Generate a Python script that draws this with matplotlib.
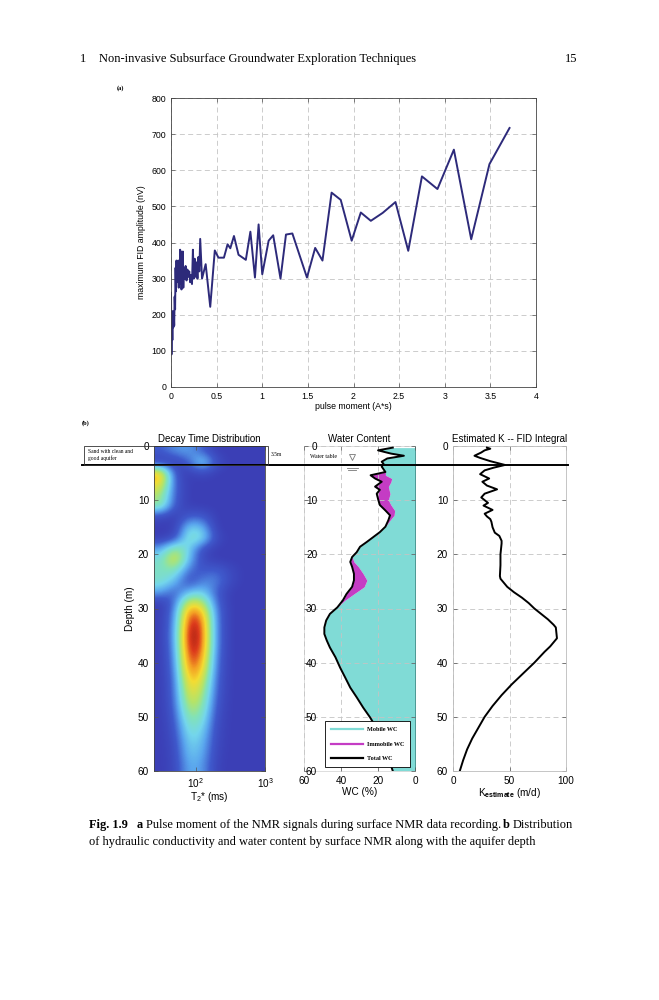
import numpy as np
import matplotlib
matplotlib.use("Agg")
import matplotlib.pyplot as plt
from matplotlib.colors import LinearSegmentedColormap
from matplotlib.lines import Line2D
from matplotlib.patches import Rectangle

plt.rcParams['font.family'] = ['Liberation Sans', 'DejaVu Sans']
plt.rcParams['mathtext.fontset'] = 'custom'
plt.rcParams['mathtext.rm'] = 'Liberation Sans'
plt.rcParams['mathtext.bf'] = 'Liberation Sans:bold'
plt.rcParams['mathtext.it'] = 'Liberation Sans:italic'

# ---- (a) pulse moment vs max FID amplitude ----
pulse_moment = [0.0, 0.005, 0.01, 0.015, 0.02, 0.025, 0.03, 0.035, 0.04, 0.045,
                0.05, 0.055, 0.06, 0.065, 0.07, 0.075, 0.08, 0.085, 0.09, 0.095,
                0.1, 0.105, 0.11, 0.115, 0.12, 0.125, 0.13, 0.135, 0.14, 0.15,
                0.16, 0.17, 0.18, 0.19, 0.2, 0.21, 0.22, 0.23, 0.24, 0.25,
                0.26, 0.27, 0.28, 0.29, 0.3, 0.31, 0.32,
                0.34, 0.38, 0.43, 0.48, 0.52, 0.58, 0.62, 0.65, 0.69, 0.74,
                0.82, 0.87, 0.92, 0.96, 1.0, 1.07, 1.12, 1.2, 1.26, 1.33,
                1.49, 1.58, 1.66, 1.76, 1.86, 1.98, 2.08, 2.19, 2.32, 2.46,
                2.6, 2.75, 2.92, 3.1, 3.29, 3.49, 3.71]
fid_amp = [260, 90, 200, 130, 210, 165, 205, 170, 250, 215,
           330, 265, 350, 290, 335, 300, 350, 275, 330, 300,
           380, 285, 375, 270, 340, 300, 375, 275, 330, 300,
           335, 295, 325, 305, 320, 290, 310, 285, 380, 300,
           355, 305, 345, 300, 360, 320, 410,
           300, 340, 222, 378, 358, 358, 395, 384, 418, 366,
           352, 430, 303, 450, 312, 405, 420, 300, 422, 425,
           303, 385, 350, 538, 518, 405, 483, 460, 482, 512,
           377, 583, 548, 657, 409, 617, 717]

# ---- (b) decay time distribution (rows: depth 1..59 m step 2, cols: log10 T2* 1.5..2.9) ----
decay_depth = [1, 3, 5, 7, 9, 11, 13, 15, 17, 19, 21, 23, 25, 27, 29,
               31, 33, 35, 37, 39, 41, 43, 45, 47, 49, 51, 53, 55, 57, 59]
decay_logt2 = [1.5, 1.7, 1.9, 2.1, 2.3, 2.5, 2.7, 2.9]
decay_grid = [
    [0.12, 0.22, 0.25, 0.12, 0, 0, 0, 0],
    [0, 0, 0.12, 0.42, 0.08, 0, 0, 0],
    [0.80, 0.08, 0, 0.05, 0, 0, 0, 0],
    [0.70, 0.12, 0, 0, 0, 0, 0, 0],
    [0.55, 0.12, 0, 0, 0, 0, 0, 0],
    [0.50, 0.10, 0, 0, 0, 0, 0, 0],
    [0.05, 0, 0.12, 0.12, 0, 0, 0, 0],
    [0, 0, 0.35, 0.30, 0, 0, 0, 0],
    [0, 0.05, 0.45, 0.40, 0.05, 0, 0, 0],
    [0.25, 0.55, 0.35, 0.05, 0, 0, 0, 0],
    [0.40, 0.70, 0.30, 0.05, 0, 0, 0, 0],
    [0.42, 0.45, 0.15, 0.10, 0.15, 0.05, 0, 0],
    [0.42, 0.30, 0.05, 0.20, 0.20, 0.05, 0, 0],
    [0.25, 0.10, 0.30, 0.35, 0.12, 0, 0, 0],
    [0, 0.15, 0.68, 0.60, 0.15, 0, 0, 0],
    [0, 0.20, 0.88, 0.80, 0.18, 0, 0, 0],
    [0, 0.22, 0.96, 0.88, 0.18, 0, 0, 0],
    [0, 0.24, 1.00, 0.90, 0.18, 0, 0, 0],
    [0, 0.22, 0.98, 0.88, 0.18, 0, 0, 0],
    [0, 0.20, 0.93, 0.82, 0.16, 0, 0, 0],
    [0, 0.18, 0.86, 0.75, 0.15, 0, 0, 0],
    [0, 0.16, 0.77, 0.66, 0.13, 0, 0, 0],
    [0, 0.15, 0.70, 0.58, 0.12, 0, 0, 0],
    [0, 0.14, 0.63, 0.52, 0.10, 0, 0, 0],
    [0, 0.12, 0.55, 0.46, 0.08, 0, 0, 0],
    [0, 0.10, 0.46, 0.40, 0.06, 0, 0, 0],
    [0, 0.08, 0.40, 0.34, 0.05, 0, 0, 0],
    [0, 0.06, 0.35, 0.30, 0.04, 0, 0, 0],
    [0, 0.05, 0.32, 0.27, 0.03, 0, 0, 0],
    [0, 0.04, 0.28, 0.24, 0.02, 0, 0, 0],
]

# ---- (b) water content ----
wc_depth = [0.3, 0.8, 1.4, 1.8, 2.3, 2.9, 3.3, 3.8, 4.8, 5.4,
            6.0, 6.6, 7.5, 8.1, 8.8, 10.0, 10.9, 11.9, 12.8, 13.7,
            14.9, 15.9, 16.8, 17.7, 18.6, 19.6, 20.5, 21.4, 22.3, 23.6,
            24.8, 26.0, 27.3, 28.5, 29.8, 31.0, 32.2, 33.5, 34.7, 35.9,
            37.2, 39.0, 40.9, 42.7, 44.6, 46.4, 48.3, 50.1, 51.4, 53.0,
            55.0, 57.0, 59.0, 60.0]
total_wc = [12, 20, 13, 6, 15, 18, 17, 18, 16, 24,
            21.6, 18, 21.6, 19, 20.7, 19.8, 19, 16, 13.5, 14.4,
            16, 19, 22.5, 26, 29.7, 31.5, 34, 35, 34, 33,
            33, 34, 37, 39, 42, 46, 48, 49, 49, 47.7,
            46, 43, 40.5, 37.8, 35, 31.5, 28, 24.3, 22, 19.5,
            17, 15, 13, 12]
mobile_wc = [12, 20, 13, 6, 15, 18, 17, 18, 16, 16,
             12.6, 13, 14.4, 14, 13.5, 14.4, 13, 11, 11.3, 13.5,
             16, 19, 22.5, 26, 29.7, 31.5, 34, 33, 30.6, 28,
             26, 27.5, 33, 38, 42, 46, 48, 49, 49, 47.7,
             46, 43, 40.5, 37.8, 35, 31.5, 28, 24.3, 22, 19.5,
             17, 15, 13, 12]

# ---- (b) estimated K ----
k_depth = [0.3, 0.5, 0.8, 1.2, 1.8, 2.2, 2.8, 3.5, 4.0, 4.5,
           5.2, 6.0, 6.6, 7.3, 8.0, 8.8, 9.5, 10.5, 11.0, 11.8,
           12.5, 13.0, 13.5, 14.0, 15.0, 16.0, 16.6, 17.5, 18, 20,
           22, 24, 24.5, 25, 26, 27, 28, 29, 30, 31,
           32, 33, 33.5, 35.5, 36, 37, 38, 40, 42, 44,
           46, 48, 50, 52, 54, 56, 58, 60]
k_est = [30, 33, 28, 25, 19, 24, 33, 46, 36, 28,
         24, 32, 26, 30, 39, 28, 25, 31, 27, 35,
         28, 30, 33, 34, 35, 37, 41, 43, 43, 42,
         42, 41.5, 42, 44, 48, 54, 61, 67, 72, 78,
         84, 89, 91, 92, 90, 86, 81, 72, 62, 52,
         43, 35, 28, 22.5, 17, 12.5, 9, 6]

water_table = 3.5

W, H = 659, 1000
fig = plt.figure(figsize=(W / 100, H / 100), dpi=100)


def box(l, t, r, b):
    return [l / W, 1 - b / H, (r - l) / W, (b - t) / H]


def style(ax, size, edge='#444444'):
    ax.tick_params(direction='in', labelsize=size, length=3, width=0.5,
                   top=True, right=True, color='#555555')
    for s in ax.spines.values():
        s.set_linewidth(0.6)
        s.set_color(edge)


grid_kw = dict(ls=(0, (6, 4)), color='#c4c4c4', lw=0.6)

# panel (a)
ax = fig.add_axes(box(171, 98, 536, 387))
ax.plot(pulse_moment, fid_amp, color='#2d2a7a', lw=1.4)
ax.set_xlim(0, 4)
ax.set_ylim(0, 800)
ax.set_xticks(np.arange(0, 4.01, 0.5))
ax.set_xticklabels(['0', '0.5', '1', '1.5', '2', '2.5', '3', '3.5', '4'])
ax.set_yticks(range(0, 801, 100))
ax.grid(True, **grid_kw)
style(ax, 6.3)
ax.set_xlabel('pulse moment (A*s)', fontsize=6.3, labelpad=1)
ax.set_ylabel('maximum FID amplitude (nV)', fontsize=6.3, labelpad=4)

# decay time distribution
cmap = LinearSegmentedColormap.from_list('nmr', [
    (0.00, '#3b3fb6'), (0.12, '#3f5acc'), (0.25, '#5aa6ee'),
    (0.35, '#74d6ec'), (0.45, '#82e2b8'), (0.55, '#b4e46a'),
    (0.68, '#f4dc32'), (0.78, '#f3a024'), (0.88, '#dc3a1c'),
    (1.00, '#8a1010')])
ax_d = fig.add_axes(box(154, 446, 265, 771))
ax_d.imshow(np.array(decay_grid), cmap=cmap, vmin=0, vmax=1,
            extent=[1.4, 3.0, 60, 0], aspect='auto', interpolation='bicubic')
ax_d.set_xlim(1.4, 3.0)
ax_d.set_ylim(60, 0)
ax_d.set_xticks([2, 3])
ax_d.set_xticklabels(['$10^2$', '$10^3$'])
ax_d.set_yticks(range(0, 61, 10))
style(ax_d, 7.2)
ax_d.set_xlabel('T$_2$* (ms)', fontsize=7.2, labelpad=0)
ax_d.set_ylabel('Depth (m)', fontsize=7.2, labelpad=2)
ax_d.set_title('Decay Time Distribution', fontsize=7, pad=3)

# water content
ax_w = fig.add_axes(box(304, 446, 415, 771))
ax_w.fill_betweenx(wc_depth, 0, mobile_wc, color='#80dbd6', lw=0, zorder=1)
ax_w.fill_betweenx(wc_depth, mobile_wc, total_wc, color='#c43cc4', lw=0, zorder=1)
ax_w.plot(total_wc, wc_depth, color='k', lw=1.4, zorder=3)
ax_w.set_xlim(60, 0)
ax_w.set_ylim(60, 0)
ax_w.set_xticks([60, 40, 20, 0])
ax_w.set_yticks(range(0, 61, 10))
ax_w.set_axisbelow(False)
ax_w.grid(True, **grid_kw)
style(ax_w, 7.2, edge='#d8d8d8')
ax_w.spines['right'].set_color('#3a8a86')
ax_w.tick_params(axis='y', pad=-9.5)
ax_w.set_xlabel('WC (%)', fontsize=7.2, labelpad=1)
ax_w.set_title('Water Content', fontsize=7, pad=3)
ax_w.text(57, 2.0, 'Water table', family='Liberation Serif', fontsize=4.2,
          va='center', zorder=4)
ax_w.plot([34], [2.0], marker='v', ms=5, mfc='none', mec='#777777', mew=0.6, zorder=4)
ax_w.plot([37, 31], [4.0, 4.0], color='#777777', lw=0.6, zorder=4)
ax_w.plot([36, 32], [4.5, 4.5], color='#777777', lw=0.6, zorder=4)
handles = [Line2D([], [], color='#80dbd6', lw=1.6),
           Line2D([], [], color='#c43cc4', lw=1.6),
           Line2D([], [], color='k', lw=1.6)]
leg = ax_w.legend(handles, ['Mobile WC', 'Immobile WC', 'Total WC'],
                  loc='lower right', bbox_to_anchor=(0.985, 0.004),
                  prop=dict(family='Liberation Serif', weight='bold', size=4.4),
                  handlelength=5.2, labelspacing=1.5, borderpad=0.9,
                  fancybox=False, framealpha=1, edgecolor='k')
leg.get_frame().set_linewidth(0.6)
leg.set_zorder(6)

# estimated K
ax_k = fig.add_axes(box(453, 446, 566, 771))
ax_k.plot(k_est, k_depth, color='k', lw=1.4, zorder=3)
ax_k.set_xlim(0, 100)
ax_k.set_ylim(60, 0)
ax_k.set_xticks([0, 50, 100])
ax_k.set_yticks(range(0, 61, 10))
ax_k.grid(True, **grid_kw)
style(ax_k, 7.2, edge='#bbbbbb')
ax_k.set_xlabel(r'K$_{\mathbf{estimate}}$ (m/d)', fontsize=7.2, labelpad=0)
ax_k.set_title('Estimated K -- FID Integral', fontsize=7, pad=3)

# water table line and aquifer box
y_wt = ax_d.transData.transform((2, water_table))[1] / H
fig.add_artist(Line2D([82 / W, 568 / W], [y_wt, y_wt], color='k', lw=1.4,
                      transform=fig.transFigure, zorder=10))
fig.add_artist(Rectangle((84 / W, y_wt), 184 / W, 19 / H, fill=False,
                         lw=0.6, ec='#333333', transform=fig.transFigure, zorder=10))
serif = 'Liberation Serif'
fig.text(88 / W, 1 - 451 / H, 'Sand with clean and', family=serif, fontsize=4,
         va='center')
fig.text(88 / W, 1 - 458.5 / H, 'good aquifer', family=serif, fontsize=4, va='center')
fig.text(271 / W, 1 - 454 / H, '3.5m', family=serif, fontsize=4, va='center')

fig.text(117 / W, 1 - 88 / H, '(a)', family=serif, fontsize=4.5, weight='bold',
         va='center')
fig.text(82 / W, 1 - 423 / H, '(b)', family=serif, fontsize=4.5, weight='bold',
         va='center')

# page header
fig.text(80 / W, 1 - 59 / H, '1', family=serif, fontsize=9.0, va='center')
fig.text(99 / W, 1 - 59 / H, 'Non-invasive Subsurface Groundwater Exploration Techniques',
         family=serif, fontsize=9.0, va='center')
fig.text(577 / W, 1 - 59 / H, '15', family=serif, fontsize=9.0, va='center', ha='right')

# caption, written as runs of normal and bold text
renderer = fig.canvas.get_renderer()


def runs(x_px, y_px, parts):
    for txt, bold, gap in parts:
        t = fig.text(x_px / W, 1 - y_px / H, txt, family=serif, fontsize=8.95,
                     weight='bold' if bold else 'normal', va='center')
        x_px += t.get_window_extent(renderer).width + gap


runs(89, 825, [('Fig. 1.9', True, 9), ('a', True, 2.5),
               ('Pulse moment of the NMR signals during surface NMR data recording.', False, 2.5),
               ('b', True, 2.5), ('Distribution', False, 0)])
runs(89, 842, [('of hydraulic conductivity and water content by surface NMR along with the aquifer depth',
                False, 0)])

fig.savefig('out.png', dpi=100)
